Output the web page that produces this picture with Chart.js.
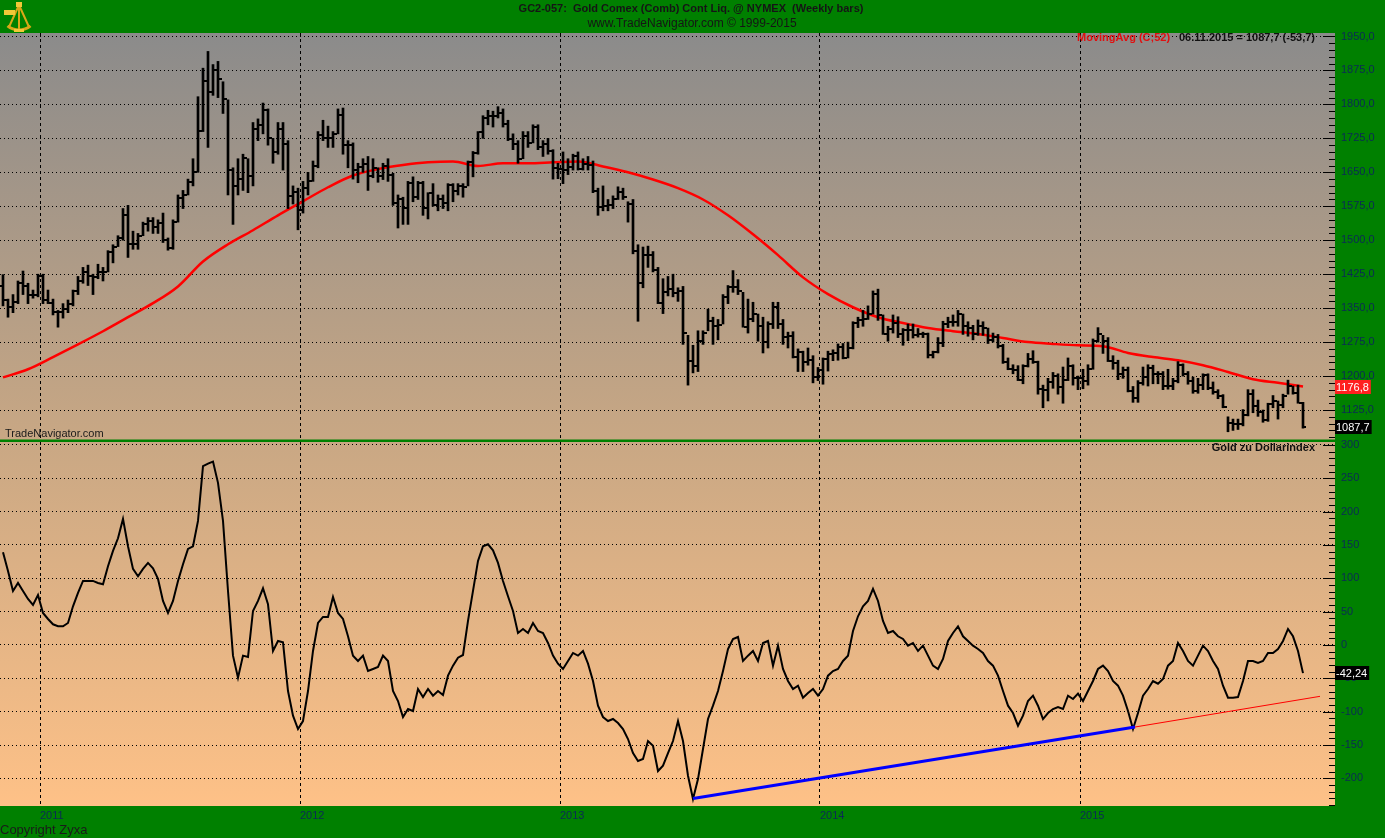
<!DOCTYPE html>
<html>
<head>
<meta charset="utf-8">
<script src="https://cdn.jsdelivr.net/npm/chart.js@4.4.1/dist/chart.umd.min.js"></script>
<style>
html,body{margin:0;padding:0;background:#008000;overflow:hidden}
#wrap{position:relative;width:1385px;height:838px}
canvas{display:block}
</style>
</head>
<body>
<div id="wrap"><canvas id="c" width="1385" height="838"></canvas></div>
<script>
// ---- weekly OHLC, week 0 = 12.11.2010 ... week 260 = 06.11.2015 ----
const highs = [
1424,1370,1380,1410,1432,1405,1390,1425,
1425,1390,1370,1345,1360,1368,1390,1420,1440,1445,1425,1447,1440,1477,1490,1510,1570,1577,1520,1515,1540,1550,1550,1545,1560,1505,1545,1600,1610,1635,1680,1817,1880,1917,1888,1895,1850,1810,1660,1680,1690,1680,1760,1768,1803,1790,1725,1760,1760,1720,1620,1615,
1630,1650,1675,1740,1765,1752,1740,1790,1792,1720,1715,1670,1680,1685,1680,1660,1670,1680,1648,1600,1595,1630,1640,1630,1630,1605,1625,1600,1600,1625,1625,1625,1625,1675,1696,1740,1775,1787,1785,1795,1790,1765,1735,1720,1740,1740,1755,1755,1720,1725,1700,1670,
1695,1680,1690,1695,1680,1685,1675,1615,1620,1590,1598,1618,1615,1585,1590,1490,1485,1487,1475,1440,1415,1420,1425,1395,1398,1290,1268,1300,1300,1348,1330,1325,1380,1400,1433,1413,1385,1370,1363,1337,1330,1320,1363,1363,1325,1297,1298,1260,1255,1262,1245,1219,
1240,1255,1258,1271,1272,1275,1320,1330,1345,1355,1388,1392,1335,1310,1335,1331,1305,1315,1315,1305,1297,1295,1255,1285,1321,1330,1335,1345,1337,1320,1312,1324,1320,1306,1295,1292,1270,1240,1225,1223,1225,1250,1256,1233,1180,1195,1208,1205,1220,1240,1225,1200,
1215,1225,1282,1307,1290,1285,1245,1235,1220,1220,1177,1190,1220,1225,1224,1210,1210,1215,1195,1232,1227,1210,1198,1195,1205,1205,1187,1170,1159,1110,1105,1105,1126,1170,1170,1147,1125,1140,1157,1145,1160,1191,1178,1180,1142
];
const lows = [
1355,1330,1340,1360,1380,1360,1372,1375,
1360,1360,1335,1308,1328,1340,1355,1380,1405,1400,1380,1415,1410,1430,1450,1486,1500,1462,1480,1480,1510,1520,1515,1515,1495,1478,1480,1540,1570,1600,1620,1650,1740,1705,1820,1815,1780,1600,1535,1600,1610,1605,1620,1720,1735,1710,1670,1690,1655,1570,1580,1523,
1560,1600,1630,1660,1720,1705,1705,1735,1690,1660,1635,1627,1650,1610,1638,1628,1634,1630,1577,1527,1535,1535,1585,1590,1555,1547,1575,1565,1570,1565,1585,1600,1595,1620,1640,1690,1725,1755,1750,1770,1750,1720,1700,1670,1680,1705,1715,1700,1685,1690,1635,1636,
1625,1645,1655,1655,1655,1655,1605,1555,1565,1565,1570,1590,1590,1540,1470,1321,1395,1440,1430,1360,1338,1377,1375,1365,1270,1180,1207,1210,1270,1300,1270,1280,1315,1360,1385,1380,1308,1295,1320,1277,1251,1262,1305,1305,1270,1262,1240,1210,1210,1224,1185,1190,
1182,1211,1234,1235,1238,1240,1260,1307,1310,1325,1337,1323,1292,1277,1295,1285,1268,1278,1284,1286,1285,1240,1240,1251,1265,1307,1310,1310,1292,1288,1280,1290,1290,1272,1275,1262,1228,1214,1205,1190,1183,1220,1228,1160,1130,1145,1173,1160,1140,1190,1180,1170,
1172,1180,1215,1275,1250,1232,1215,1192,1195,1165,1142,1142,1180,1178,1183,1183,1170,1171,1170,1185,1200,1182,1162,1162,1170,1170,1160,1150,1130,1077,1080,1082,1090,1112,1119,1111,1098,1100,1130,1105,1130,1160,1160,1140,1085
];
const opens = [
1400,1368,1352,1363,1406,1398,1379,1380,
1421,1369,1361,1342,1341,1349,1360,1388,1409,1429,1421,1418,1429,1429,1474,1486,1504,1556,1492,1492,1510,1536,1542,1529,1539,1500,1483,1541,1594,1601,1628,1651,1742,1852,1828,1876,1856,1813,1656,1620,1635,1681,1642,1746,1754,1788,1725,1694,1745,1713,1597,1606,
1566,1616,1631,1664,1732,1725,1725,1735,1776,1711,1711,1656,1662,1669,1641,1659,1642,1664,1644,1582,1592,1571,1626,1596,1627,1572,1604,1578,1590,1582,1621,1609,1620,1617,1672,1692,1738,1770,1774,1775,1781,1756,1724,1712,1679,1731,1714,1751,1706,1713,1697,1660,
1657,1656,1662,1686,1658,1669,1667,1609,1573,1576,1577,1592,1607,1596,1581,1476,1405,1467,1468,1435,1362,1386,1392,1383,1388,1296,1234,1223,1277,1295,1322,1310,1313,1375,1397,1396,1388,1309,1325,1337,1310,1275,1315,1352,1315,1287,1288,1243,1253,1232,1235,1198,
1214,1238,1248,1252,1265,1240,1262,1318,1323,1326,1338,1382,1334,1294,1305,1318,1293,1301,1302,1290,1293,1293,1246,1253,1274,1316,1320,1320,1337,1310,1307,1294,1310,1307,1280,1287,1266,1231,1216,1214,1192,1222,1238,1231,1171,1169,1186,1201,1175,1192,1222,1196,
1195,1189,1216,1277,1293,1278,1234,1228,1204,1213,1167,1152,1184,1199,1218,1204,1204,1179,1178,1189,1225,1205,1189,1168,1180,1202,1174,1164,1157,1131,1096,1095,1094,1113,1160,1134,1121,1103,1138,1145,1136,1155,1177,1163,1141
];
const closes = [
1368,1352,1363,1406,1398,1379,1380,1421,
1369,1361,1342,1341,1349,1360,1388,1409,1429,1421,1418,1429,1429,1474,1486,1504,1556,1492,1492,1510,1536,1542,1529,1539,1500,1483,1541,1594,1601,1628,1651,1742,1852,1828,1876,1856,1813,1656,1620,1635,1681,1642,1746,1754,1788,1725,1694,1745,1713,1597,1606,1566,
1616,1631,1664,1732,1725,1725,1735,1776,1711,1711,1656,1662,1669,1641,1659,1642,1664,1644,1582,1592,1571,1626,1596,1627,1572,1604,1578,1590,1582,1621,1609,1620,1617,1672,1692,1738,1770,1774,1775,1781,1756,1724,1712,1679,1731,1714,1751,1706,1713,1697,1660,1657,
1656,1662,1686,1658,1669,1667,1609,1573,1576,1577,1592,1607,1596,1581,1476,1405,1467,1468,1435,1362,1386,1392,1383,1388,1296,1234,1223,1277,1295,1322,1310,1313,1375,1397,1396,1388,1309,1325,1337,1310,1275,1315,1352,1315,1287,1288,1243,1253,1232,1235,1198,1214,
1238,1248,1252,1265,1240,1262,1318,1323,1326,1338,1382,1334,1294,1305,1318,1293,1301,1302,1290,1293,1293,1246,1253,1274,1316,1320,1320,1337,1310,1307,1294,1310,1307,1280,1287,1266,1231,1216,1214,1192,1222,1238,1231,1171,1169,1186,1201,1175,1192,1222,1196,1195,
1189,1216,1277,1293,1278,1234,1228,1204,1213,1167,1152,1184,1199,1218,1204,1204,1179,1178,1189,1225,1205,1189,1168,1180,1202,1174,1164,1157,1131,1096,1095,1094,1113,1160,1134,1121,1103,1138,1145,1136,1155,1177,1163,1141,1087.7
];
// ---- 52-week moving average, read every 5th week ----
const maWeeks = [0,5,10,15,20,25,30,35,40,45,50,55,60,65,70,75,80,85,90,95,100,105,110,115,120,125,130,135,140,145,150,155,160,165,170,175,180,185,190,195,200,205,210,215,220,225,230,235,240,245,250,255,260];
const maValues = [1197,1215,1242,1270,1299,1330,1361,1398,1453,1491,1522,1555,1586,1617,1643,1657,1666,1672,1674,1664,1670,1670,1672,1674,1663,1650,1634,1615,1590,1555,1513,1467,1418,1381,1352,1330,1317,1306,1299,1293,1284,1275,1271,1268,1266,1251,1242,1235,1224,1209,1193,1185,1176.8];
// ---- Gold zu Dollarindex (weekly) ----
const goldToDollar = [
139,111,81,93,81,69,60,75,
48,39,31,28,28,33,58,78,96,96,96,93,91,118,141,160,189,148,114,103,114,123,115,99,66,48,66,96,121,144,148,186,268,272,275,243,186,81,-16,-49,-16,-18,51,66,85,61,-9,6,4,-69,-106,-126,
-114,-69,-9,33,42,42,72,48,39,13,-16,-24,-16,-39,-36,-33,-16,-24,-69,-84,-108,-96,-99,-66,-78,-66,-76,-69,-75,-46,-31,-19,-15,36,81,126,148,151,142,123,96,73,51,18,24,18,33,21,18,3,-16,-28,
-36,-24,-12,-16,-9,-28,-54,-91,-108,-114,-111,-117,-126,-141,-162,-174,-171,-144,-151,-189,-181,-162,-144,-114,-144,-196,-231,-201,-156,-111,-91,-69,-39,-6,9,12,-24,-16,-9,-24,3,6,-31,-1,-36,-54,-66,-61,-79,-72,-66,-76,
-66,-46,-39,-36,-24,-16,21,43,58,66,84,66,36,18,21,13,9,-1,3,-9,-1,-16,-31,-36,-21,6,18,28,13,6,-1,-6,-12,-24,-31,-46,-69,-91,-102,-121,-106,-84,-76,-91,-111,-102,-96,-93,-96,-76,-81,-73,
-84,-69,-54,-36,-31,-39,-54,-61,-76,-99,-126,-102,-76,-66,-54,-58,-51,-31,-24,3,-9,-24,-31,-16,-1,-9,-24,-36,-61,-79,-79,-78,-54,-24,-24,-27,-24,-12,-12,-6,6,24,13,-9,-42.24
];
// ---- trend line on the indicator ----
const trendWeeks = [138, 226.4];
const trendValues = [-230, -123];
const trendExtWeeks = [226.4, 263.4];
const trendExtValues = [-123, -77];
// ---- axes ----
const yearWeeks = [7.4, 59.4, 111.4, 163.4, 215.4];
const yearLabels = ['2011','2012','2013','2014','2015'];
const priceLabelStep = 75, priceMinorStep = 15;
const ratioLabelStep = 50, ratioMinorStep = 10;

const FONT = "'Liberation Sans', Arial, sans-serif";
const AXIS_TXT = '#0b2a55';

function tickCanvas(left){
  const c = document.createElement('canvas');
  c.width = 6; c.height = 2;
  const g = c.getContext('2d');
  g.fillStyle = '#000';
  g.fillRect(left ? 0 : 4, 0, 2, 2);
  return c;
}
const openTick = tickCanvas(true);
const closeTick = tickCanvas(false);

function fmtPrice(v){ return v.toFixed(1).replace('.', ','); }
function fmtRatio(v){ return (Math.round(v*100)/100).toString().replace('.', ','); }
function isMult(v, s){ return Math.abs(v/s - Math.round(v/s)) < 1e-6; }

function buildTicks(scale, step){
  const out = [];
  const start = Math.ceil(scale.min/step)*step;
  for (let v = start; v <= scale.max + 1e-9; v += step) out.push({value: Math.round(v*1000)/1000});
  scale.ticks = out;
}

const bgPlugin = {
  id: 'bg',
  beforeDraw(chart){
    const {ctx, chartArea: a} = chart;
    ctx.save();
    ctx.fillStyle = '#008000';
    ctx.fillRect(0, 0, chart.width, chart.height);
    const g = ctx.createLinearGradient(0, a.top, 0, a.bottom);
    g.addColorStop(0, '#8b8b8b');
    g.addColorStop(0.52, '#c8a784');
    g.addColorStop(1, '#fec187');
    ctx.fillStyle = g;
    ctx.fillRect(a.left, a.top, a.right - a.left, a.bottom - a.top);
    ctx.restore();
  }
};

function drawLogo(ctx){
  ctx.save();
  ctx.strokeStyle = '#d9a818';
  ctx.fillStyle = '#f2c838';
  ctx.lineWidth = 3;
  ctx.beginPath(); ctx.arc(19, 12, 18, Math.PI*0.28, Math.PI*0.72); ctx.stroke();
  ctx.lineWidth = 2;
  ctx.beginPath(); ctx.moveTo(19,5); ctx.lineTo(9,27); ctx.moveTo(19,5); ctx.lineTo(29,27); ctx.moveTo(19,5); ctx.lineTo(19,30); ctx.stroke();
  ctx.fillRect(4, 10, 11, 5);
  ctx.fillRect(16, 2, 6, 5);
  ctx.fillRect(14, 29, 10, 3);
  ctx.restore();
}

function valueBox(ctx, y, text, bg){
  ctx.save();
  ctx.font = '11px ' + FONT;
  const w = Math.max(32, ctx.measureText(text).width + 3);
  ctx.fillStyle = bg;
  ctx.fillRect(1335, Math.round(y) - 7, w, 14);
  ctx.fillStyle = '#ffffff';
  ctx.textBaseline = 'middle';
  ctx.textAlign = 'left';
  ctx.fillText(text, 1336, Math.round(y) + 0.5);
  ctx.restore();
}

const overlayPlugin = {
  id: 'overlay',
  afterDraw(chart){
    const {ctx, chartArea: a} = chart;
    const ys = chart.scales.y, y2 = chart.scales.y2;
    ctx.save();
    // separator between panels
    ctx.fillStyle = '#008000';
    ctx.fillRect(a.left, ys.bottom - 0.5, a.right - a.left, 2.5);
    // inside tick marks
    ctx.fillStyle = '#000';
    [[ys, priceLabelStep], [y2, ratioLabelStep]].forEach(([s, step]) => {
      s.ticks.forEach(t => {
        const py = Math.round(s.getPixelForValue(t.value));
        if (py < s.top || py > s.bottom) return;
        const len = isMult(t.value, step) ? 12 : 6;
        ctx.fillRect(a.right - len, py, len, 1);
      });
    });
    // titles
    ctx.fillStyle = '#151515';
    ctx.textAlign = 'center';
    ctx.textBaseline = 'middle';
    ctx.font = 'bold 11px ' + FONT;
    ctx.fillText('GC2-057:  Gold Comex (Comb) Cont Liq. @ NYMEX  (Weekly bars)', 691, 9);
    ctx.font = '12px ' + FONT;
    ctx.fillText('www.TradeNavigator.com \u00A9 1999-2015', 692, 24);
    // legend line
    ctx.textAlign = 'left';
    ctx.font = 'bold 11px ' + FONT;
    ctx.fillStyle = '#e01010';
    ctx.fillText('MovingAvg (C;52)', 1077, 38);
    ctx.fillStyle = '#111';
    ctx.textAlign = 'right';
    ctx.fillText('06.11.2015 = ' + fmtPrice(closes[closes.length-1]) + ' (-53,7)', 1315, 38);
    ctx.fillText('Gold zu Dollarindex', 1315, 448);
    ctx.textAlign = 'left';
    ctx.font = '11px ' + FONT;
    ctx.fillStyle = '#1a1a1a';
    ctx.fillText('TradeNavigator.com', 5, 434);
    ctx.font = '13px ' + FONT;
    ctx.fillText('Copyright Zyxa', 0, 830);
    ctx.restore();
    drawLogo(ctx);
    // value boxes
    valueBox(ctx, ys.getPixelForValue(maValues[maValues.length-1]), fmtPrice(maValues[maValues.length-1]), '#ff2020');
    valueBox(ctx, ys.getPixelForValue(closes[closes.length-1]), fmtPrice(closes[closes.length-1]), '#000000');
    valueBox(ctx, y2.getPixelForValue(goldToDollar[goldToDollar.length-1]), fmtRatio(goldToDollar[goldToDollar.length-1]), '#000000');
  }
};

const idx = (arr) => arr.map((v, i) => ({x: i, y: v}));
const pairs = (xs, vs) => xs.map((x, k) => ({x: x, y: vs[k]}));

new Chart(document.getElementById('c'), {
  type: 'line',
  data: {
    datasets: [
      {type:'line', data: pairs(maWeeks, maValues), yAxisID:'y', borderColor:'#ff0000', borderWidth:2.5, pointRadius:0, pointHoverRadius:0, cubicInterpolationMode:'monotone', order:6},
      {type:'bar', data: highs.map((h, i) => ({x: i, y: [lows[i], h]})), yAxisID:'y', backgroundColor:'#000', borderWidth:0, barThickness:2, grouped:false, order:3},
      {type:'scatter', data: idx(opens), yAxisID:'y', pointStyle: openTick, pointRadius:1, pointHoverRadius:0, pointBorderWidth:0, order:2},
      {type:'scatter', data: idx(closes), yAxisID:'y', pointStyle: closeTick, pointRadius:1, pointHoverRadius:0, pointBorderWidth:0, order:1},
      {type:'line', data: idx(goldToDollar), yAxisID:'y2', borderColor:'#000', borderWidth:2, pointRadius:0, pointHoverRadius:0, tension:0, order:5},
      {type:'line', data: pairs(trendExtWeeks, trendExtValues), yAxisID:'y2', borderColor:'#ff0000', borderWidth:1, pointRadius:0, pointHoverRadius:0, order:4},
      {type:'line', data: pairs(trendWeeks, trendValues), yAxisID:'y2', borderColor:'#0000ff', borderWidth:3, pointRadius:0, pointHoverRadius:0, order:4}
    ]
  },
  options: {
    responsive: false,
    animation: false,
    events: [],
    layout: {autoPadding: false, padding: {top: 33, left: 0, right: 0, bottom: 0}},
    plugins: {legend: {display: false}, tooltip: {enabled: false}},
    scales: {
      x: {
        type: 'linear', position: 'bottom', min: -0.6, max: 266.4, offset: false,
        afterBuildTicks: s => { s.ticks = yearWeeks.map(v => ({value: v})); },
        afterFit: s => { s.height = 32; s.paddingLeft = 0; s.paddingRight = 0; },
        ticks: {callback: (v, i) => yearLabels[i], align: 'start', autoSkip: false, maxRotation: 0, color: AXIS_TXT, font: {size: 11, family: FONT}, padding: 3},
        grid: {color: '#000', lineWidth: 1, drawTicks: false, offset: false},
        border: {display: false, dash: [3, 3]}
      },
      y: {
        type: 'linear', position: 'right', stack: 'panels', stackWeight: 407,
        min: 1058.8, max: 1957.7,
        afterBuildTicks: s => buildTicks(s, priceMinorStep),
        afterFit: s => { s.width = 50; s.paddingTop = 0; s.paddingBottom = 0; },
        ticks: {callback: v => isMult(v, priceLabelStep) ? fmtPrice(v) : '', autoSkip: false, color: AXIS_TXT, font: {size: 11, family: FONT}, padding: 6},
        grid: {color: c => (c.tick && isMult(c.tick.value, priceLabelStep)) ? '#000' : 'rgba(0,0,0,0)', lineWidth: 1, drawTicks: false},
        border: {display: false, dash: [1, 3]}
      },
      y2: {
        type: 'linear', position: 'right', stack: 'panels', stackWeight: 366,
        min: -241.4, max: 307.3,
        afterBuildTicks: s => buildTicks(s, ratioMinorStep),
        afterFit: s => { s.width = 50; s.paddingTop = 0; s.paddingBottom = 0; },
        ticks: {callback: v => isMult(v, ratioLabelStep) ? String(v) : '', autoSkip: false, color: AXIS_TXT, font: {size: 11, family: FONT}, padding: 6},
        grid: {color: c => (c.tick && isMult(c.tick.value, ratioLabelStep)) ? '#000' : 'rgba(0,0,0,0)', lineWidth: 1, drawTicks: false},
        border: {display: false, dash: [1, 3]}
      }
    }
  },
  plugins: [bgPlugin, overlayPlugin]
});
</script>
</body>
</html>
